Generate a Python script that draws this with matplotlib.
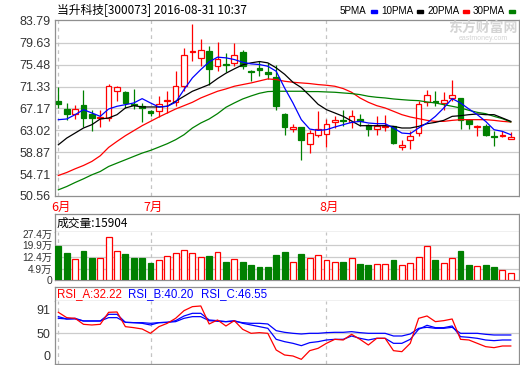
import matplotlib
matplotlib.use('Agg')
import matplotlib.pyplot as plt
from matplotlib.patches import Rectangle
import matplotlib.transforms as mtransforms
import numpy as np

plt.rcParams['font.family'] = ['Liberation Sans', 'Noto Sans CJK SC', 'DejaVu Sans']

# ---------------- data ----------------
title = '当升科技[300073] 2016-08-31 10:37'
ma_labels = ['5PMA', '10PMA', '20PMA', '30PMA']
month_labels = ['6月', '7月', '8月']
month_idx = [0, 11, 32]

opens = [68.50, 67.07, 66.12, 67.89, 66.18, 65.29, 65.29, 70.56, 70.30, 68.08,
         67.58, 66.63, 66.75, 68.53, 68.34, 71.38, 77.85, 76.77, 78.16, 75.18,
         75.63, 75.82, 77.91, 74.36, 74.80, 74.04, 73.15, 66.18, 63.33, 63.65,
         60.41, 62.19, 62.31, 64.60, 65.04, 64.53, 65.17, 64.09, 63.26, 63.71,
         63.77, 59.84, 61.24, 62.50, 68.34, 68.53, 68.21, 69.16, 69.16, 65.04,
         63.71, 63.90, 62.00, 61.93, 61.36]
highs = [71.30, 68.21, 67.89, 70.75, 66.82, 66.82, 71.89, 71.51, 70.43, 70.87,
         68.21, 66.94, 69.60, 70.43, 74.23, 78.67, 83.11, 80.26, 78.99, 79.75,
         77.72, 79.50, 78.23, 74.55, 76.13, 75.82, 75.50, 66.25, 64.22, 63.70,
         63.14, 66.63, 65.17, 65.67, 66.82, 66.82, 66.12, 64.15, 65.67, 65.99,
         63.90, 61.11, 62.82, 68.53, 70.75, 70.43, 70.24, 72.65, 69.20, 65.08,
         63.95, 64.28, 62.82, 62.82, 62.63]
lows = [67.30, 65.04, 65.17, 63.65, 62.95, 63.65, 64.85, 68.53, 67.26, 67.07,
        64.60, 65.67, 65.48, 66.31, 67.70, 70.43, 76.13, 75.18, 71.70, 74.23,
        74.04, 75.18, 74.68, 72.33, 73.41, 72.77, 66.82, 62.19, 62.63, 57.31,
        58.70, 61.74, 59.78, 63.46, 63.90, 63.46, 63.77, 61.87, 62.19, 62.82,
        60.48, 59.21, 59.46, 61.87, 67.58, 67.58, 66.94, 68.53, 63.26, 63.26,
        61.87, 62.00, 60.09, 61.74, 61.36]
closes = [68.05, 66.12, 67.07, 65.36, 65.29, 65.55, 71.38, 71.19, 68.21, 67.83,
          67.26, 66.31, 68.02, 68.84, 71.38, 77.28, 78.04, 78.23, 74.68, 76.58,
          75.37, 77.40, 75.18, 74.11, 74.55, 73.79, 67.58, 63.65, 63.58, 61.11,
          62.50, 63.26, 64.22, 65.04, 64.79, 65.67, 64.72, 63.26, 63.90, 63.90,
          60.60, 60.29, 61.87, 68.08, 69.80, 68.34, 68.84, 69.80, 65.04, 64.22,
          63.90, 62.19, 61.74, 62.12, 61.74]

ma5 = [65.04, 65.17, 65.99, 66.94, 66.31, 65.67, 67.07, 67.58, 67.89, 68.21,
       69.03, 68.21, 67.45, 67.58, 68.34, 70.75, 72.97, 74.55, 76.01, 76.90,
       76.77, 76.45, 75.94, 75.63, 75.50, 75.18, 74.23, 71.06, 68.21, 65.04,
       63.26, 63.01, 63.14, 63.65, 64.09, 64.53, 64.72, 64.41, 64.28, 64.28,
       63.46, 62.50, 62.38, 63.46, 64.41, 65.67, 67.26, 69.03, 68.21, 67.07,
       65.99, 64.72, 63.14, 62.82, 62.19]
ma10 = [60.28, 61.55, 62.50, 63.46, 64.09, 65.17, 65.36, 65.99, 67.26, 67.70,
        67.45, 67.45, 67.45, 67.58, 68.53, 69.48, 70.43, 71.06, 71.70, 72.84,
        73.85, 74.68, 75.44, 75.82, 76.07, 75.82, 74.87, 73.66, 72.14, 71.13,
        69.60, 67.96, 66.94, 66.31, 65.67, 64.79, 63.90, 63.90, 63.90, 63.90,
        63.77, 63.46, 63.46, 63.77, 64.28, 64.53, 64.91, 65.67, 65.80, 65.99,
        66.12, 65.99, 65.99, 65.36, 64.72]
ma20 = [54.45, 55.02, 55.72, 56.35, 57.12, 58.19, 59.78, 60.92, 62.00, 62.95,
        63.90, 64.72, 65.55, 66.31, 67.07, 67.70, 68.34, 69.16, 69.80, 70.43,
        70.87, 71.38, 71.70, 72.01, 72.39, 72.77, 72.65, 72.33, 72.14, 72.01,
        71.89, 71.70, 71.57, 71.38, 70.94, 70.24, 69.16, 68.34, 67.70, 67.26,
        66.63, 65.99, 65.55, 65.23, 64.91, 64.72, 64.72, 64.91, 65.04, 65.04,
        65.04, 65.04, 64.91, 64.72, 64.60]
ma30 = [51.73, 52.36, 53.12, 53.82, 54.58, 55.21, 56.16, 56.80, 57.43, 58.07,
        58.70, 59.21, 59.84, 60.48, 61.24, 62.19, 63.46, 64.41, 65.17, 66.18,
        67.39, 68.21, 68.97, 69.54, 70.05, 70.37, 70.43, 70.43, 70.43, 70.43,
        70.37, 70.37, 70.30, 70.24, 70.11, 69.99, 69.80, 69.48, 69.29, 69.16,
        68.97, 68.84, 68.72, 68.65, 68.40, 68.21, 67.89, 67.58, 67.26, 66.82,
        66.43, 66.18, 65.67, 65.23, 64.60]

# volume read against the panel's labelled grid (万)
volumes = [19.67, 15.24, 11.23, 16.29, 12.07, 12.07, 24.94, 16.29, 14.39, 12.07,
           12.07, 8.91, 10.60, 13.13, 14.82, 16.93, 14.82, 12.49, 13.13, 15.45,
           9.33, 11.23, 9.33, 7.43, 6.38, 6.38, 13.76, 15.66, 9.12, 14.39,
           11.86, 13.55, 10.60, 9.12, 9.33, 11.86, 8.06, 7.43, 8.06, 8.06,
           10.60, 7.43, 8.49, 12.49, 19.46, 10.60, 8.70, 11.86, 16.29, 7.43,
           6.80, 7.43, 6.38, 4.27, 2.37]
vol_header = '成交量:15904'
vol_floor = -2.06
vol_ticks = [vol_floor, 4.9, 12.4, 19.9, 27.4]
vol_ticklabels = ['0', '4.9万', '12.4万', '19.9万', '27.4万']

rsi_a = [85.88, 76.77, 75.63, 65.38, 64.24, 65.38, 85.88, 86.45, 61.39, 59.68,
         57.40, 50.00, 61.39, 67.09, 75.63, 88.73, 95.56, 96.70, 65.95, 72.78,
         62.53, 71.64, 56.83, 50.00, 51.14, 50.00, 21.53, 12.98, 11.27, 5.58,
         20.39, 24.37, 32.92, 39.75, 38.61, 48.29, 39.75, 30.07, 41.46, 41.46,
         20.39, 18.68, 32.92, 75.63, 79.61, 69.93, 71.64, 74.49, 39.75, 38.61,
         32.92, 27.22, 25.51, 28.36, 28.36]
rsi_b = [78.48, 74.49, 75.63, 71.07, 71.07, 71.07, 82.46, 82.46, 68.79, 68.22,
         67.09, 64.24, 68.22, 68.79, 71.64, 79.61, 84.17, 84.17, 72.78, 71.64,
         69.93, 71.64, 67.09, 64.24, 61.39, 58.54, 39.75, 35.76, 32.92, 28.93,
         34.05, 35.76, 38.61, 39.75, 39.75, 45.44, 41.46, 38.61, 41.46, 41.46,
         32.92, 32.92, 39.75, 56.83, 63.67, 59.68, 59.68, 62.53, 44.31, 43.17,
         41.46, 38.61, 37.47, 38.61, 38.61]
rsi_c = [75.63, 74.49, 74.49, 71.07, 71.07, 71.07, 76.77, 76.77, 68.79, 68.22,
         68.22, 67.09, 68.22, 68.79, 69.93, 75.63, 78.48, 78.48, 71.64, 70.50,
         69.93, 70.50, 68.22, 67.09, 67.09, 65.95, 54.56, 51.71, 50.00, 48.86,
         50.00, 50.00, 51.14, 51.71, 51.71, 52.85, 51.14, 50.00, 50.00, 50.00,
         45.44, 45.44, 48.86, 58.54, 60.25, 58.54, 58.54, 60.25, 50.00, 50.00,
         50.00, 48.29, 47.15, 47.15, 47.15]
rsi_headers = ['RSI_A:32.22', 'RSI_B:40.20', 'RSI_C:46.55']
rsi_ticks = [0, 50, 91]

price_ticks = [50.56, 54.71, 58.87, 63.02, 67.17, 71.33, 75.48, 79.63, 83.79]

# ---------------- style ----------------
RED = '#ff0000'
GREEN = '#008000'
BLUE = '#0000ff'
FRAME = '#8f8f8f'
GRID = '#cccccc'
VDASH = '#c4c4c4'
TXT = '#333333'

W, H = 520, 365
fig = plt.figure(figsize=(W / 100, H / 100), dpi=100)
fig.patch.set_facecolor('white')


def ax_rect(x0, y0, x1, y1):
    return [x0 / W, 1 - y1 / H, (x1 - x0) / W, (y1 - y0) / H]


def style_frame(a):
    for s in a.spines.values():
        s.set_color(FRAME)
        s.set_linewidth(0.9)
    a.tick_params(length=0, labelsize=9, labelcolor=TXT, pad=3)
    a.set_xticks([])


n = len(closes)
xs = np.arange(n)
o = np.array(opens)
c = np.array(closes)
hi = np.array(highs)
lo = np.array(lows)
up = c >= o
XLIM = (-0.4, 54.98)

# ---------------- main price panel ----------------
ax = fig.add_axes(ax_rect(55, 20, 519, 196))
style_frame(ax)
ax.set_xlim(*XLIM)
ax.set_ylim(50.56, 83.95)
ax.set_yticks(price_ticks)
ax.set_yticklabels([f'{t:.2f}' for t in price_ticks])
for t in price_ticks[1:-1]:
    ax.axhline(t, color=GRID, lw=0.9, zorder=0)
for m in month_idx:
    ax.axvline(m, color=VDASH, lw=0.9, ls=(0, (3, 3)), zorder=0)

cols = np.where(up, RED, GREEN)
ax.vlines(xs, lo, hi, colors=cols, lw=0.9, zorder=2)
body_bot = np.minimum(o, c)
body_h = np.maximum(np.abs(c - o), 0.12)
faces = np.where(up, 'white', GREEN)
ax.bar(xs, body_h, bottom=body_bot, width=0.68, color=faces, edgecolor=cols,
       linewidth=0.9, zorder=3)

ax.plot(xs, ma20, color=RED, lw=0.9, zorder=4)
ax.plot(xs, ma30, color=GREEN, lw=0.9, zorder=4)
ax.plot(xs, ma10, color='black', lw=0.9, zorder=4)
ax.plot(xs, ma5, color=BLUE, lw=0.9, zorder=4)

blend = mtransforms.blended_transform_factory(ax.transData, ax.transAxes)
for lab, m in zip(month_labels, month_idx):
    ax.text(m + 0.35, -0.065, lab, transform=blend, ha='center', va='center',
            color=RED, fontsize=9, family=['Noto Sans CJK SC', 'DejaVu Sans'])

# title and legend
fig.text(57 / W, 1 - 10 / H, title, ha='left', va='center', fontsize=8.5,
         color='black', family=['Noto Sans CJK SC', 'DejaVu Sans'])
leg_x = [340, 381.5, 427.5, 473]
leg_mark = [371, 417, 463, 509]
leg_cols = [BLUE, 'black', RED, GREEN]
for lab, lx, mx, col in zip(ma_labels, leg_x, leg_mark, leg_cols):
    fig.text(lx / W, 1 - 11 / H, lab, ha='left', va='center', fontsize=7.1,
             color='black')
    fig.patches.append(Rectangle((mx / W, 1 - 13 / H), 6 / W, 3 / H,
                                 transform=fig.transFigure, color=col))

# watermark
fig.text(483 / W, 1 - 28 / H, '东方财富网', ha='center', va='center',
         fontsize=10, fontweight='bold', color='#d4d4d4',
         family=['Noto Sans CJK SC', 'DejaVu Sans'], zorder=0)
fig.text(483 / W, 1 - 38 / H, 'eastmoney.com', ha='center', va='center',
         fontsize=5, color='#d4d4d4', zorder=0)

# ---------------- volume panel ----------------
axvh = fig.add_axes(ax_rect(55, 214, 519, 232))
style_frame(axvh)
axvh.set_yticks([])
axvh.text(2 / 464, 0.5, vol_header, transform=axvh.transAxes, ha='left',
          va='center', fontsize=8.5, color='black',
          family=['Noto Sans CJK SC', 'DejaVu Sans'])

axv = fig.add_axes(ax_rect(55, 232, 519, 280))
style_frame(axv)
axv.spines['top'].set_visible(False)
axv.set_xlim(*XLIM)
axv.set_ylim(vol_floor, 28.32)
axv.set_yticks(vol_ticks)
axv.set_yticklabels(vol_ticklabels)
axv.tick_params(labelsize=7.4, pad=2)
for t in vol_ticks[1:4]:
    axv.axhline(t, color=GRID, lw=0.9, zorder=0)
for m in month_idx:
    axv.axvline(m, color=VDASH, lw=0.9, ls=(0, (3, 3)), zorder=0)
vol_arr = np.array(volumes)
axv.bar(xs, vol_arr - vol_floor, bottom=vol_floor, width=0.7, color=faces,
        edgecolor=cols, linewidth=0.9, zorder=3)

# ---------------- RSI panel ----------------
axrh = fig.add_axes(ax_rect(55, 287, 519, 301))
style_frame(axrh)
axrh.set_yticks([])
hdr_x = [57, 128, 200.5]
hdr_c = [RED, BLUE, BLUE]
for txt, hx, hc in zip(rsi_headers, hdr_x, hdr_c):
    fig.text(hx / W, 1 - 294.5 / H, txt, ha='left', va='center', fontsize=8.3,
             color=hc)

axr = fig.add_axes(ax_rect(55, 301, 519, 364))
style_frame(axr)
axr.spines['top'].set_visible(False)
axr.set_xlim(*XLIM)
axr.set_ylim(-2.4, 105.2)
axr.set_yticks(rsi_ticks)
axr.set_yticklabels([str(t) for t in rsi_ticks])
for lbl in axr.get_yticklabels():
    if lbl.get_text() == '0':
        lbl.set_va('bottom')
axr.axhline(50, color=GRID, lw=0.9, zorder=0)
for m in month_idx:
    axr.axvline(m, color=VDASH, lw=0.9, ls=(0, (3, 3)), zorder=0)
axr.plot(xs, rsi_c, color=BLUE, lw=0.9, zorder=3)
axr.plot(xs, rsi_b, color=BLUE, lw=0.9, zorder=3)
axr.plot(xs, rsi_a, color=RED, lw=0.9, zorder=4)

fig.savefig('out.png', dpi=100, facecolor='white')
